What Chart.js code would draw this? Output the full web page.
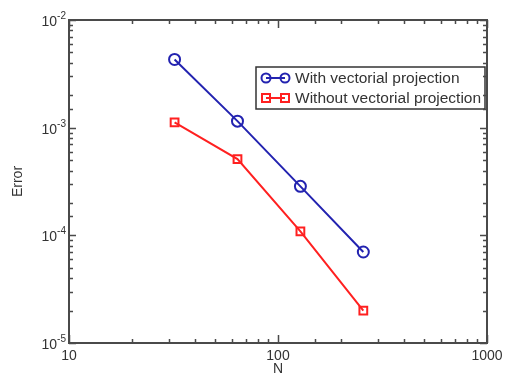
<!DOCTYPE html>
<html>
<head>
<meta charset="utf-8">
<script src="https://cdn.jsdelivr.net/npm/chart.js@4"></script>
<style>
html, body { margin: 0; padding: 0; background: #fff; }
#wrap { width: 507px; height: 378px; }
</style>
</head>
<body>
<div id="wrap"><canvas id="myChart" width="507" height="378"></canvas></div>
<script>
// data
var nValues = [32, 64, 128, 256];
var withProj = [4.3e-3, 1.15e-3, 2.85e-4, 7.0e-5];
var withoutProj = [1.12e-3, 5.1e-4, 1.09e-4, 2.0e-5];
var seriesNames = ["With vectorial projection", "Without vectorial projection"];
var xTickLabels = { 10: "10", 100: "100", 1000: "1000" };
var yTickLabels = { "-5": "-5", "-4": "-4", "-3": "-3", "-2": "-2" };

var FONT = "Liberation Sans, Arial, sans-serif";
var FRAME = "#4a4a4a";

function pts(xs, ys) {
	var out = [];
	for (var i = 0; i < xs.length; i++) out.push({ x : xs[i], y : ys[i] });
	return out;
}

function isPow10(v) {
	var l = Math.log10(v);
	return Math.abs(l - Math.round(l)) < 1e-9;
}

// frame, inward ticks on all sides, and tick labels with superscripts
var framePlugin = {
	id : 'frame',
	afterDraw : function(chart) {
		var ctx = chart.ctx, a = chart.chartArea;
		var xs = chart.scales.x, ys = chart.scales.y;
		ctx.save();
		ctx.strokeStyle = FRAME;
		ctx.lineWidth = 1.5;
		xs.ticks.forEach(function(t) {
			var px = Math.round(xs.getPixelForValue(t.value)) + 0.5;
			var len = isPow10(t.value) ? 8 : 4;
			ctx.beginPath();
			ctx.moveTo(px, a.bottom); ctx.lineTo(px, a.bottom - len);
			ctx.moveTo(px, a.top); ctx.lineTo(px, a.top + len);
			ctx.stroke();
		});
		ys.ticks.forEach(function(t) {
			var py = Math.round(ys.getPixelForValue(t.value)) + 0.5;
			var len = isPow10(t.value) ? 7 : 4;
			ctx.beginPath();
			ctx.moveTo(a.left, py); ctx.lineTo(a.left + len, py);
			ctx.moveTo(a.right, py); ctx.lineTo(a.right - len, py);
			ctx.stroke();
		});
		ctx.lineWidth = 2;
		ctx.strokeRect(a.left, a.top, a.right - a.left, a.bottom - a.top);

		ctx.fillStyle = "#333";
		ctx.textBaseline = "alphabetic";
		ctx.font = "14px " + FONT;
		ctx.textAlign = "center";
		xs.ticks.forEach(function(t) {
			var lab = xTickLabels[Math.round(t.value)];
			if (!isPow10(t.value) || !lab) return;
			ctx.fillText(lab, xs.getPixelForValue(t.value), a.bottom + 17);
		});
		ys.ticks.forEach(function(t) {
			if (!isPow10(t.value)) return;
			var e = yTickLabels[String(Math.round(Math.log10(t.value)))];
			if (!e) return;
			var py = ys.getPixelForValue(t.value);
			ctx.font = "10px " + FONT;
			ctx.textAlign = "right";
			var ew = ctx.measureText(e).width;
			ctx.fillText(e, a.left - 3, py - 1);
			ctx.font = "14px " + FONT;
			ctx.fillText("10", a.left - 3 - ew, py + 6);
		});
		ctx.restore();
	}
};

// legend box inside the plot, top right
var legendBox = {
	id : 'legendBox',
	afterDatasetsDraw : function(chart) {
		var ctx = chart.ctx;
		var x0 = 256, y0 = 67, w = 229, h = 42;
		ctx.save();
		ctx.fillStyle = "#fff";
		ctx.fillRect(x0, y0, w, h);
		ctx.strokeStyle = "#333";
		ctx.lineWidth = 1.5;
		ctx.strokeRect(x0, y0, w, h);
		chart.data.datasets.forEach(function(ds, i) {
			var cy = y0 + 11 + i * 20;
			var xa = x0 + 10, xb = x0 + 29;
			ctx.strokeStyle = ds.borderColor;
			ctx.lineWidth = 2;
			ctx.beginPath(); ctx.moveTo(xa, cy); ctx.lineTo(xb, cy); ctx.stroke();
			[xa, xb].forEach(function(px) {
				ctx.beginPath();
				if (ds.pointStyle === 'rect') {
					ctx.rect(px - 4, cy - 4, 8, 8);
				} else {
					ctx.arc(px, cy, 4.5, 0, Math.PI * 2);
				}
				ctx.stroke();
			});
			ctx.fillStyle = "#333";
			ctx.font = "15.5px " + FONT;
			ctx.textAlign = "left";
			ctx.textBaseline = "middle";
			ctx.fillText(ds.label, x0 + 39, cy + 1);
		});
		ctx.restore();
	}
};

var ctx = document.getElementById("myChart").getContext('2d');
var chart = new Chart(ctx, {
	type : 'line',
	data : {
		datasets : [ {
			label : seriesNames[0],
			data : pts(nValues, withProj),
			borderColor : "#2323b0",
			backgroundColor : "transparent",
			borderWidth : 2,
			pointStyle : 'circle',
			pointRadius : 5.5,
			pointBorderWidth : 2,
			pointBackgroundColor : "transparent",
			tension : 0
		}, {
			label : seriesNames[1],
			data : pts(nValues, withoutProj),
			borderColor : "#ff2020",
			backgroundColor : "transparent",
			borderWidth : 2,
			pointStyle : 'rect',
			pointRadius : 5.5,
			pointBorderWidth : 2,
			pointBackgroundColor : "transparent",
			tension : 0
		} ]
	},
	options : {
		responsive : false,
		animation : false,
		devicePixelRatio : 1,
		layout : { padding : { top : 20, right : 20, left : 10, bottom : 0 } },
		plugins : {
			legend : { display : false },
			tooltip : { enabled : false }
		},
		scales : {
			x : {
				type : 'logarithmic',
				min : 10,
				max : 1000,
				grid : { display : false, drawTicks : false },
				border : { display : false },
				ticks : { display : false, autoSkip : false },
				title : {
					display : true,
					text : "N",
					color : "#333",
					font : { family : FONT, size : 14 },
					padding : { top : 0, bottom : 0 }
				},
				afterFit : function(s) { s.height = 35; }
			},
			y : {
				type : 'logarithmic',
				min : 1e-5,
				max : 1e-2,
				grid : { display : false, drawTicks : false },
				border : { display : false },
				ticks : { display : false, autoSkip : false },
				title : {
					display : true,
					text : "Error",
					color : "#333",
					font : { family : FONT, size : 14 },
					padding : { top : 0, bottom : 0 }
				},
				afterFit : function(s) { s.width = 59; }
			}
		}
	},
	plugins : [ framePlugin, legendBox ]
});
</script>
</body>
</html>
